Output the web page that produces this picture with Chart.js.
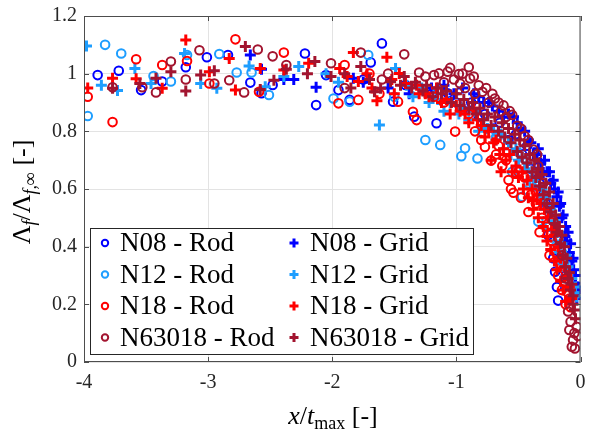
<!DOCTYPE html>
<html>
<head>
<meta charset="utf-8">
<script src="https://cdn.jsdelivr.net/npm/chart.js@4"></script>
<style>
  html, body { margin: 0; padding: 0; background: #fff; }
  #wrap { width: 589px; height: 439px; }
</style>
</head>
<body>
<div id="wrap"><canvas id="lengthChart" width="589" height="439"></canvas></div>
<script>
/* data: x / t_max and normalised length scale */

const xTicks = [-4, -3, -2, -1, 0];
const yTicks = [0, 0.2, 0.4, 0.6, 0.8, 1, 1.2];

const n08RodX = [-3.89, -3.72, -3.54, -3.37, -3.18, -3.01, -2.84, -2.66, -2.57, -2.48, -2.22, -2.13, -2.05, -1.95, -1.86, -1.69, -1.60, -1.51, -1.41, -1.34, -1.16, -1.07, -0.95, -0.82, -0.70, -0.58, -0.47, -0.40, -0.33, -0.28, -0.24, -0.205, -0.18, -0.15, -0.12,
    -1.20, -1.00, -0.88, -0.77, -0.65, -0.52, -0.43, -0.36, -0.30, -0.26, -0.22, -0.19, -0.10, -1.75];
const n08RodY = [0.995, 1.010, 0.943, 0.973, 1.022, 1.057, 1.065, 0.969, 0.932, 0.961, 1.070, 0.891, 0.995, 0.943, 0.909, 1.039, 1.105, 0.903, 0.961, 0.851, 0.828, 0.932, 0.875, 0.850, 0.810, 0.770, 0.720, 0.670, 0.620, 0.550, 0.500, 0.313, 0.213, 0.380, 0.300,
    0.930, 0.900, 0.900, 0.860, 0.830, 0.790, 0.750, 0.660, 0.580, 0.440, 0.360, 0.260, 0.240, 0.980];

const n12RodX = [-3.97, -3.83, -3.70, -3.44, -3.30, -3.17, -2.91, -2.77, -2.65, -2.51, -1.99, -1.86, -1.71, -1.50, -1.25, -1.15, -1.13, -0.96, -0.93, -0.83, -0.68, -0.55, -0.47, -0.42, -0.34, -0.30, -0.25, -0.20, -0.16, -0.12];
const n12RodY = [0.853, 1.100, 1.070, 0.992, 0.973, 1.065, 1.068, 1.004, 1.004, 0.926, 0.914, 0.903, 1.065, 0.920, 0.770, 0.943, 0.753, 0.714, 0.741, 0.706, 0.780, 0.660, 0.573, 0.620, 0.487, 0.550, 0.470, 0.400, 0.330, 0.270];

const n18RodX = [-3.97, -3.77, -3.58, -3.37, -3.17, -2.99, -2.78, -2.59, -2.39, -1.95, -1.79, -1.47, -1.35, -1.32, -1.18, -1.01, -0.90, -0.77, -0.72, -0.66, -0.60, -0.58, -0.54, -0.50, -0.45, -0.40, -0.36, -0.31, -0.27, -0.23, -0.20, -0.16, -0.13, -0.10, -0.08,
    -1.10, -0.85, -0.80, -0.68, -0.63, -0.56, -0.48, -0.42, -0.33, -0.25, -0.18, -0.15, -0.12, -0.09, -1.90, -1.70, -1.62];
const n18RodY = [0.920, 0.832, 1.050, 1.030, 1.044, 0.966, 1.119, 0.937, 1.073, 0.897, 0.909, 0.903, 0.868, 0.839, 0.920, 0.799, 0.860, 0.746, 0.699, 0.750, 0.700, 0.631, 0.587, 0.660, 0.640, 0.580, 0.550, 0.500, 0.470, 0.420, 0.380, 0.340, 0.280, 0.240, 0.190,
    0.900, 0.800, 0.770, 0.720, 0.680, 0.600, 0.570, 0.520, 0.450, 0.370, 0.300, 0.250, 0.200, 0.220, 1.030, 1.000, 0.930];

const n63018RodX = [-3.77, -3.53, -3.42, -3.30, -3.18, -3.07, -2.95, -2.83, -2.71, -2.60, -2.48, -2.37, -2.01, -1.77, -1.42, -1.30, -1.18, -1.14, -1.10, -1.07, -1.02, -0.98, -0.97, -0.93, -0.90, -0.89, -0.85, -0.79, -0.74, -0.69, -0.64, -0.60, -0.55, -0.51, -0.45, -0.38, -0.34, -0.30, -0.26, -0.22, -0.18, -0.15, -0.12, -0.10, -0.09, -0.08, -0.07, -0.06, -0.05, -0.045, -0.03, -0.02,
    -1.25, -1.05, -0.95, -0.86, -0.82, -0.76, -0.71, -0.66, -0.62, -0.57, -0.48, -0.42, -0.35, -1.90, -1.60, -1.55];
const n63018RodY = [0.953, 0.953, 0.935, 1.042, 0.980, 1.081, 0.966, 0.977, 0.935, 1.084, 1.060, 1.030, 1.036, 1.073, 1.067, 1.004, 0.995, 1.001, 0.970, 1.007, 0.980, 0.999, 0.966, 0.950, 1.022, 0.983, 0.930, 0.937, 0.900, 0.914, 0.870, 0.850, 0.857, 0.819, 0.784, 0.737, 0.680, 0.620, 0.550, 0.490, 0.430, 0.370, 0.290, 0.175, 0.111, 0.140, 0.053, 0.076, 0.100, 0.047, 0.122, 0.090,
    0.990, 1.020, 1.000, 0.990, 0.960, 0.950, 0.930, 0.900, 0.890, 0.870, 0.810, 0.770, 0.720, 0.950, 0.980, 1.000];

const n08GridX = [-2.66, -2.57, -2.39, -2.31, -2.13, -1.83, -1.75, -1.55, -1.38, -1.20, -1.02, -0.86, -0.78, -0.71, -0.62, -0.54, -0.48, -0.42, -0.38, -0.35, -0.32, -0.30, -0.27, -0.24, -0.21, -0.19, -0.17, -0.15, -0.125, -0.11, -0.09, -0.07, -0.055, -0.045, -0.035, -0.03, -0.02,
    -1.10, -0.95, -0.82, -0.74, -0.66, -0.58, -0.51, -0.45, -0.40, -0.34, -0.29, -0.25, -0.22, -0.18, -0.16, -0.14, -0.12, -0.10, -0.08, -0.06, -0.04, -0.025];
const n08GridY = [1.065, 1.015, 0.980, 0.980, 0.953, 0.984, 0.970, 0.950, 0.930, 0.950, 0.930, 0.930, 0.900, 0.888, 0.849, 0.851, 0.810, 0.770, 0.722, 0.720, 0.690, 0.657, 0.660, 0.620, 0.600, 0.573, 0.540, 0.500, 0.435, 0.420, 0.380, 0.350, 0.320, 0.273, 0.250, 0.220, 0.240,
    0.960, 0.950, 0.920, 0.900, 0.870, 0.860, 0.830, 0.800, 0.760, 0.740, 0.700, 0.660, 0.630, 0.590, 0.550, 0.510, 0.470, 0.450, 0.410, 0.360, 0.300, 0.260];

const n12GridX = [-3.98, -3.86, -3.73, -3.59, -3.46, -3.19, -3.06, -2.93, -2.67, -2.54, -2.39, -2.27, -1.62, -1.49, -1.35, -1.22, -1.10, -0.98, -0.90, -0.82, -0.75, -0.68, -0.62, -0.56, -0.50, -0.45, -0.41, -0.37, -0.33, -0.29, -0.26, -0.23, -0.20, -0.17, -0.14, -0.11, -0.08, -0.05, -0.03,
    -1.40, -1.28, -1.15, -1.05, -0.95, -0.86, -0.78, -0.70, -0.64, -0.58, -0.52, -0.47, -0.43, -0.39, -0.35, -0.31, -0.28, -0.24, -0.21, -0.18, -0.15, -0.12, -0.10, -0.07, -0.04, -2.05, -1.95];
const n12GridY = [1.096, 0.960, 0.942, 1.018, 0.966, 1.070, 0.966, 0.949, 1.027, 0.955, 0.990, 1.025, 0.822, 1.018, 0.920, 0.900, 0.870, 0.860, 0.840, 0.800, 0.810, 0.770, 0.740, 0.720, 0.700, 0.670, 0.630, 0.610, 0.560, 0.530, 0.500, 0.460, 0.420, 0.380, 0.340, 0.300, 0.270, 0.240, 0.226,
    0.960, 0.950, 0.910, 0.900, 0.880, 0.870, 0.840, 0.800, 0.790, 0.760, 0.740, 0.710, 0.690, 0.660, 0.640, 0.600, 0.570, 0.530, 0.490, 0.450, 0.410, 0.370, 0.330, 0.290, 0.260, 1.000, 0.970];

const n18GridX = [-3.97, -3.77, -3.58, -3.37, -3.18, -2.99, -2.83, -2.78, -2.58, -2.39, -2.19, -1.94, -1.83, -1.79, -1.64, -1.56, -1.46, -1.41, -1.32, -1.25, -1.16, -1.08, -1.00, -0.93, -0.86, -0.80, -0.74, -0.72, -0.68, -0.64, -0.62, -0.57, -0.52, -0.47, -0.43, -0.39, -0.38, -0.35, -0.32, -0.29, -0.27, -0.26, -0.23, -0.21, -0.18, -0.16, -0.13, -0.11, -0.09, -0.07,
    -1.30, -1.22, -1.12, -1.05, -0.97, -0.90, -0.83, -0.77, -0.70, -0.65, -0.60, -0.55, -0.50, -0.46, -0.42, -0.38, -0.34, -0.30, -0.27, -0.24, -0.21, -0.19, -0.16, -0.14, -0.12,
    -1.88, -1.72, -1.68, -1.52, -1.50];
const n18GridY = [0.950, 0.984, 0.982, 0.949, 1.117, 1.007, 1.053, 0.943, 1.018, 1.013, 1.036, 1.018, 1.073, 0.973, 0.906, 1.057, 1.001, 0.966, 0.960, 0.930, 0.950, 0.910, 0.890, 0.860, 0.880, 0.820, 0.800, 0.700, 0.770, 0.660, 0.740, 0.720, 0.680, 0.660, 0.630, 0.600, 0.560, 0.580, 0.550, 0.530, 0.435, 0.500, 0.460, 0.440, 0.400, 0.360, 0.330, 0.300, 0.260, 0.220,
    0.930, 0.920, 0.900, 0.860, 0.870, 0.830, 0.840, 0.780, 0.760, 0.720, 0.700, 0.660, 0.640, 0.600, 0.570, 0.530, 0.500, 0.470, 0.420, 0.390, 0.350, 0.320, 0.280, 0.250, 0.210,
    0.990, 1.000, 0.950, 0.980, 0.930];

const n63018GridX = [-3.77, -3.55, -3.42, -3.30, -3.18, -3.06, -2.95, -2.70, -2.58, -2.47, -2.37, -2.14, -2.01, -1.77, -1.66, -1.61, -1.53, -1.45, -1.36, -1.27, -1.19, -1.12, -1.04, -0.97, -0.90, -0.84, -0.78, -0.72, -0.66, -0.61, -0.56, -0.51, -0.47, -0.43, -0.39, -0.36, -0.33, -0.30, -0.27, -0.24, -0.21, -0.19, -0.16, -0.14, -0.12, -0.10, -0.08, -0.06,
    -1.42, -1.33, -1.24, -1.15, -1.08, -1.00, -0.94, -0.87, -0.81, -0.75, -0.69, -0.63, -0.58, -0.53, -0.49, -0.45, -0.41, -0.37, -0.34, -0.31, -0.28, -0.25, -0.22, -0.20, -0.17, -0.15, -0.13, -0.11, -0.09, -0.07, -0.06, -0.05, -0.04,
    -2.20, -1.90, -1.85, -1.70];
const n63018GridY = [0.949, 0.966, 0.984, 1.007, 0.940, 0.995, 1.010, 1.094, 0.945, 0.977, 1.015, 1.042, 0.990, 1.025, 0.937, 0.949, 0.972, 0.960, 0.950, 0.940, 0.920, 0.930, 0.900, 0.890, 0.880, 0.860, 0.840, 0.820, 0.800, 0.780, 0.760, 0.730, 0.710, 0.690, 0.660, 0.640, 0.610, 0.580, 0.550, 0.520, 0.480, 0.450, 0.410, 0.370, 0.330, 0.290, 0.250, 0.200,
    0.990, 0.970, 0.960, 0.950, 0.940, 0.930, 0.910, 0.900, 0.880, 0.860, 0.850, 0.830, 0.810, 0.790, 0.770, 0.750, 0.720, 0.700, 0.670, 0.650, 0.620, 0.590, 0.550, 0.510, 0.470, 0.440, 0.400, 0.360, 0.310, 0.270, 0.230, 0.180, 0.150,
    1.000, 1.000, 0.950, 0.980];

const blue = "rgb(0, 0, 255)";
const lightBlue = "rgb(30, 158, 255)";
const red = "rgb(255, 0, 0)";
const darkRed = "rgb(162, 20, 47)";

const serif = "'Liberation Serif', 'Times New Roman', serif";
const axisColor = "#262626";

const toPoints = (xs, ys) => xs.map((x, i) => ({ x, y: ys[i] }));

/* plotting sequence of the original figure: later ones sit on top */
const seriesList = [
    { label: "N08 - Rod", xs: n08RodX, ys: n08RodY, color: blue, marker: "circle" },
    { label: "N08 - Grid", xs: n08GridX, ys: n08GridY, color: blue, marker: "cross" },
    { label: "N12 - Rod", xs: n12RodX, ys: n12RodY, color: lightBlue, marker: "circle" },
    { label: "N12 - Grid", xs: n12GridX, ys: n12GridY, color: lightBlue, marker: "cross" },
    { label: "N18 - Rod", xs: n18RodX, ys: n18RodY, color: red, marker: "circle" },
    { label: "N18 - Grid", xs: n18GridX, ys: n18GridY, color: red, marker: "cross" },
    { label: "N63018 - Rod", xs: n63018RodX, ys: n63018RodY, color: darkRed, marker: "circle" },
    { label: "N63018 - Grid", xs: n63018GridX, ys: n63018GridY, color: darkRed, marker: "cross" }
];

const datasets = seriesList.map((s, i) => ({
    label: s.label,
    data: toPoints(s.xs, s.ys),
    order: seriesList.length - i,
    pointStyle: s.marker,
    pointRadius: s.marker === "circle" ? 4.3 : 5.5,
    pointBorderWidth: s.marker === "circle" ? 2 : 3,
    borderColor: s.color,
    backgroundColor: "rgba(0,0,0,0)",
    showLine: false
}));

/* legend rows in the order of the original legend (two columns) */
const legendLeft = ["N08 - Rod", "N12 - Rod", "N18 - Rod", "N63018 - Rod"];
const legendRight = ["N08 - Grid", "N12 - Grid", "N18 - Grid", "N63018 - Grid"];

function drawMarker(ctx, marker, color, x, y, small) {
    ctx.save();
    ctx.strokeStyle = color;
    ctx.beginPath();
    if (marker === "circle") {
        ctx.lineWidth = 2;
        ctx.arc(x, y, small ? 3.2 : 4.3, 0, Math.PI * 2);
    } else {
        ctx.lineWidth = 3;
        const r = small ? 4.5 : 5.5;
        ctx.moveTo(x - r, y);
        ctx.lineTo(x + r, y);
        ctx.moveTo(x, y - r);
        ctx.lineTo(x, y + r);
    }
    ctx.stroke();
    ctx.restore();
}

/* draws a list of [text, font, dy] pieces one after another */
function drawPieces(ctx, pieces, x, y) {
    let cx = x;
    pieces.forEach(p => {
        ctx.font = p[1];
        ctx.fillText(p[0], cx, y + (p[2] || 0));
        cx += ctx.measureText(p[0]).width;
    });
}

function piecesWidth(ctx, pieces) {
    return pieces.reduce((w, p) => {
        ctx.font = p[1];
        return w + ctx.measureText(p[0]).width;
    }, 0);
}

const matlabFrame = {
    id: "matlabFrame",
    afterDraw(chart) {
        const ctx = chart.ctx;
        const area = chart.chartArea;
        const xScale = chart.scales.x;
        const yScale = chart.scales.y;

        /* box and inward ticks */
        ctx.save();
        ctx.strokeStyle = "#4d4d4d";
        ctx.lineWidth = 1;
        ctx.strokeRect(area.left + 0.5, area.top + 0.5, area.right - area.left - 1, area.bottom - area.top - 1);
        ctx.beginPath();
        xTicks.forEach(v => {
            const px = Math.round(xScale.getPixelForValue(v)) + 0.5;
            ctx.moveTo(px, area.bottom);
            ctx.lineTo(px, area.bottom - 5);
            ctx.moveTo(px, area.top);
            ctx.lineTo(px, area.top + 5);
        });
        yTicks.forEach(v => {
            const py = Math.round(yScale.getPixelForValue(v)) + 0.5;
            ctx.moveTo(area.left, py);
            ctx.lineTo(area.left + 5, py);
            ctx.moveTo(area.right, py);
            ctx.lineTo(area.right - 5, py);
        });
        ctx.stroke();
        ctx.restore();

        /* legend box */
        const box = { left: 90, top: 228, right: 474, bottom: 355 };
        ctx.save();
        ctx.fillStyle = "#fff";
        ctx.fillRect(box.left, box.top, box.right - box.left, box.bottom - box.top);
        ctx.strokeStyle = "#262626";
        ctx.lineWidth = 1;
        ctx.strokeRect(box.left + 0.5, box.top + 0.5, box.right - box.left - 1, box.bottom - box.top - 1);
        ctx.fillStyle = "#000";
        ctx.textBaseline = "middle";
        ctx.font = "27px " + serif;
        const rowY = [243, 274.5, 306, 337.5];
        legendLeft.forEach((label, i) => {
            const s = seriesList.find(item => item.label === label);
            drawMarker(ctx, s.marker, s.color, 105, rowY[i], true);
            ctx.fillText(label, 120, rowY[i] + 1);
        });
        legendRight.forEach((label, i) => {
            const s = seriesList.find(item => item.label === label);
            drawMarker(ctx, s.marker, s.color, 294, rowY[i], true);
            ctx.fillText(label, 310, rowY[i] + 1);
        });
        ctx.restore();

        /* axis titles with sub-scripts */
        const big = "26px " + serif;
        const bigItalic = "italic 26px " + serif;
        const smallItalic = "italic 18px " + serif;
        const small = "18px " + serif;

        ctx.save();
        ctx.fillStyle = "#000";
        ctx.textBaseline = "alphabetic";
        const xTitle = [["x", bigItalic], ["/", big], ["t", bigItalic], ["max", small, 5], [" [-]", big]];
        const xw = piecesWidth(ctx, xTitle);
        drawPieces(ctx, xTitle, 333 - xw / 2, 424);

        const yTitle = [["Λ", big], ["f", smallItalic, 5], ["/Λ", big], ["f,∞", smallItalic, 6], [" [-]", big]];
        const yw = piecesWidth(ctx, yTitle);
        ctx.translate(30, 192);
        ctx.rotate(-Math.PI / 2);
        drawPieces(ctx, yTitle, -yw / 2, 0);
        ctx.restore();
    }
};

new Chart(document.querySelector("#lengthChart"), {
    type: "scatter",
    data: { datasets },
    options: {
        responsive: false,
        animation: false,
        layout: {
            padding: { left: 0, right: 5, top: 16, bottom: 0 }
        },
        plugins: {
            legend: { display: false },
            tooltip: { enabled: false }
        },
        scales: {
            x: {
                type: "linear",
                min: -4,
                max: 0,
                afterFit: scale => {
                    scale.height = 77;
                    scale.paddingLeft = 0;
                    scale.paddingRight = 0;
                },
                afterBuildTicks: scale => { scale.ticks = xTicks.map(value => ({ value })); },
                ticks: {
                    color: axisColor,
                    padding: 9,
                    font: { family: serif, size: 20 },
                    callback: value => String(value)
                },
                grid: { color: "#e3e3e3", drawTicks: false },
                border: { display: false }
            },
            y: {
                min: 0,
                max: 1.2,
                afterFit: scale => {
                    scale.width = 84;
                    scale.paddingTop = 0;
                    scale.paddingBottom = 0;
                },
                afterBuildTicks: scale => { scale.ticks = yTicks.map(value => ({ value })); },
                ticks: {
                    color: axisColor,
                    padding: 7,
                    font: { family: serif, size: 20 },
                    callback: value => String(+value.toFixed(1))
                },
                grid: { color: "#e3e3e3", drawTicks: false },
                border: { display: false }
            }
        }
    },
    plugins: [matlabFrame]
});
</script>
</body>
</html>
